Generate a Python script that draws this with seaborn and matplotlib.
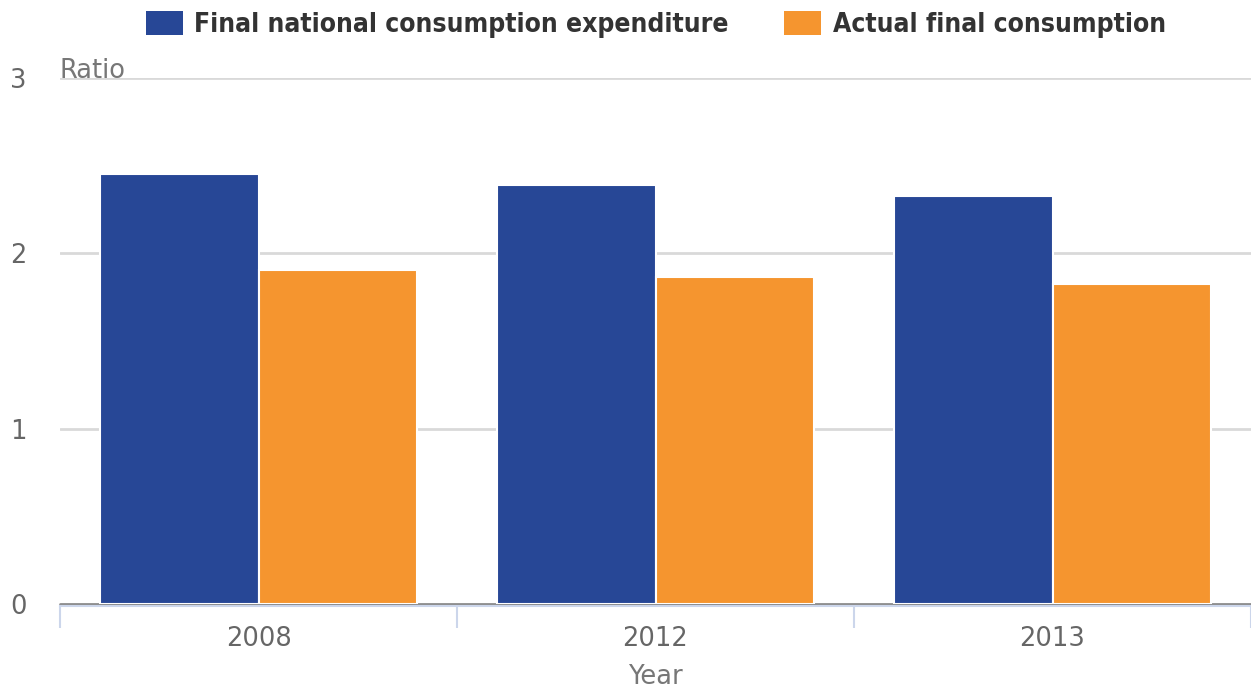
import os
import matplotlib
matplotlib.use("Agg")
import matplotlib.pyplot as plt
from matplotlib import font_manager
import seaborn as sns
import pandas as pd

years = ["2008", "2012", "2013"]
series_names = ["Final national consumption expenditure", "Actual final consumption"]
final_national = [2.455, 2.39, 2.325]
actual_final = [1.905, 1.865, 1.825]
y_ticks = [0, 1, 2, 3]
colors = ["#274796", "#f5952f"]

df = pd.DataFrame({
    "Year": years * 2,
    "Series": [series_names[0]] * 3 + [series_names[1]] * 3,
    "Ratio": final_national + actual_final,
})

# Fonts: bundled DejaVu Sans for body text, a condensed bold face for the legend if present
ttf_dir = os.path.join(matplotlib.get_data_path(), "fonts", "ttf")
regular_fp = font_manager.FontProperties(fname=os.path.join(ttf_dir, "DejaVuSans.ttf"))
bold_path = os.path.join(ttf_dir, "DejaVuSans-Bold.ttf")
for f in font_manager.findSystemFonts():
    if os.path.basename(f) == "DejaVuSansCondensed-Bold.ttf":
        bold_path = f
        break
bold_fp = font_manager.FontProperties(fname=bold_path)

sns.set_theme(style="white")

fig = plt.figure(figsize=(12.51, 6.91), dpi=100)
ax = fig.add_axes([60 / 1251, 1 - 604 / 691, 1 - 60 / 1251, (604 - 78) / 691])

sns.barplot(data=df, x="Year", y="Ratio", hue="Series", palette=colors,
            width=0.8, edgecolor="white", linewidth=1.5, saturation=1,
            ax=ax, zorder=3, legend=False)

ax.set_ylim(0, 3)
ax.set_xlim(-0.5, 2.5)
ax.set_yticks(y_ticks)
ax.set_axisbelow(True)
ax.yaxis.grid(True, color="#d9d9d9", linewidth=2)
ax.xaxis.grid(False)
zero_line = ax.get_ygridlines()[0]
zero_line.set_color("#8c8c8c")
zero_line.set_clip_on(False)

for side in ["top", "right", "left"]:
    ax.spines[side].set_visible(False)
ax.spines["bottom"].set_color("#ccd6eb")
ax.spines["bottom"].set_linewidth(1.5)
ax.spines["bottom"].set_position(("outward", 1.5))

# Category boundary ticks below the axis line
ax.set_xticks([-0.5, 0.5, 1.5, 2.5], minor=True)
ax.tick_params(axis="x", which="minor", bottom=True, length=16, width=1.5, color="#ccd6eb")
ax.tick_params(axis="x", which="major", bottom=True, length=0, pad=14, labelcolor="#666666")
ax.tick_params(axis="y", length=0, pad=24, labelcolor="#666666")
for lab in ax.get_xticklabels() + ax.get_yticklabels():
    lab.set_fontproperties(regular_fp)
    lab.set_fontsize(18.5)

ax.set_xlabel("Year", fontproperties=regular_fp, fontsize=18.5, color="#777777", labelpad=9)
ax.set_ylabel("")
ax.text(0, 1.0, "Ratio", transform=ax.transAxes, ha="left", va="baseline",
        fontproperties=regular_fp, fontsize=18.5, color="#777777")

legend_fp = bold_fp.copy()
legend_fp.set_size(19)
handles = [plt.Rectangle((0, 0), 1, 1, facecolor=c, edgecolor="none") for c in colors]
leg = fig.legend(handles, series_names, loc="upper center", bbox_to_anchor=(656 / 1251, 1.018),
                 ncol=2, frameon=False, handlelength=1.4, handleheight=1.0, handletextpad=0.45,
                 columnspacing=2.1, prop=legend_fp)
for t in leg.get_texts():
    t.set_color("#333333")

fig.savefig("out.png", dpi=100)
